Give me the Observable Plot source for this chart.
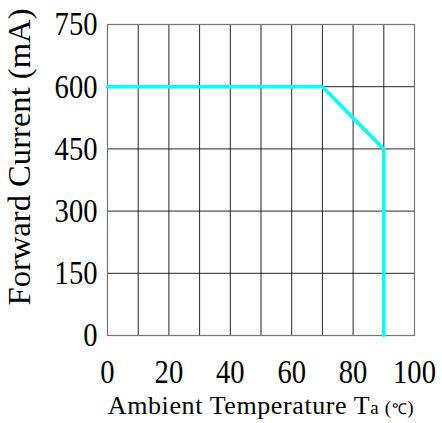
<!DOCTYPE html>
<html><head><meta charset="utf-8">
<script src="https://cdn.jsdelivr.net/npm/d3@7"></script>
<script src="https://cdn.jsdelivr.net/npm/@observablehq/plot@0.6"></script>
<style>body{margin:0;background:#fff} svg text{font-family:"Liberation Serif","Times New Roman",serif !important}</style>
</head><body><div id="chart"></div>
<script>
const temperature = [0, 70, 90, 90];
const current = [600, 600, 450, 0];
const xTicks = [0, 20, 40, 60, 80, 100];
const yTicks = [0, 150, 300, 450, 600, 750];
const xGrid = [0,10,20,30,40,50,60,70,80,90,100];
const yLabel = "Forward Current (mA)";
const xLabel = "Ambient Temperature Ta (℃)";

const data = temperature.map((t, i) => ({t, c: current[i]}));

const chart = Plot.plot({
  width: 442, height: 423,
  marginLeft: 107, marginRight: 28, marginTop: 24, marginBottom: 88,
  style: {fontFamily: "'Liberation Serif', serif", background: "#fff", color: "#000"},
  x: {domain: [0, 100]},
  y: {domain: [0, 750]},
  marks: [
    Plot.gridX(xGrid, {stroke: "#000", strokeOpacity: 0.85, strokeWidth: 1}),
    Plot.gridY(yTicks, {stroke: "#000", strokeOpacity: 0.85, strokeWidth: 1}),
    Plot.frame({stroke: "#777", strokeWidth: 1.2}),
    Plot.axisX(xTicks, {tickSize: 0, tickPadding: 24, fontSize: 33, label: null, fill: "#000"}),
    Plot.axisY(yTicks, {tickSize: 0, tickPadding: 10, fontSize: 34, label: null, fill: "#000"}),
    Plot.line(data, {x: "t", y: "c", stroke: "#00ffff", strokeWidth: 3.5, strokeLinejoin: "miter"}),
    Plot.text([yLabel], {frameAnchor: "left", text: d => d, rotate: -90, dx: -87, dy: -23, fontSize: 31, textAnchor: "middle", fill: "#000"}),
    Plot.text([xLabel], {frameAnchor: "bottom", text: d => d, dy: 78, fontSize: 26, textAnchor: "middle", fill: "#000"})
  ]
});
document.getElementById("chart").appendChild(chart);

// narrow, tall glyphs like the reference
d3.select(chart).selectAll("text").each(function() {
  const s = d3.select(this);
  const t = s.text();
  if (t === yLabel) {
    s.attr("textLength", 297).attr("lengthAdjust", "spacingAndGlyphs");
  } else if (t === xLabel) {
    s.text(null).attr("letter-spacing", 0.6);
    s.append("tspan").text("Ambient Temperature T");
    s.append("tspan").attr("font-size", 19).text("a (");
    s.append("tspan").attr("font-size", 15).text("℃");
    s.append("tspan").attr("font-size", 19).text(")");
  } else if (/^\d+$/.test(t)) {
    s.attr("textLength", t.length * 14.3).attr("lengthAdjust", "spacingAndGlyphs");
  }
});
</script>
</body></html>
